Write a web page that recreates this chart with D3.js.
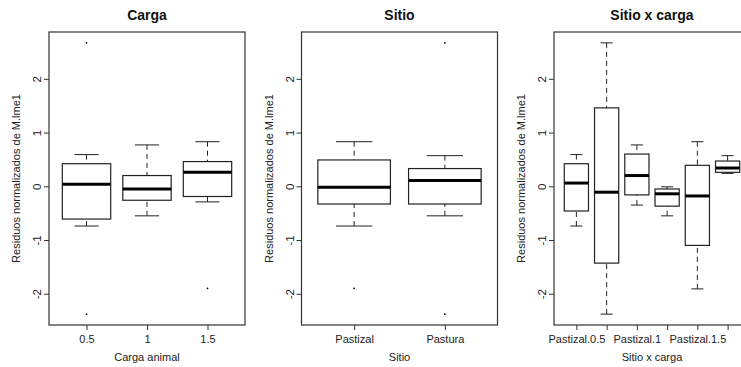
<!DOCTYPE html>
<html>
<head>
<meta charset="utf-8">
<script src="https://cdn.jsdelivr.net/npm/d3@7"></script>
<style>
  body { margin: 0; background: #fff; }
  svg { display: block; font-family: "Liberation Sans", Arial, sans-serif; }
</style>
</head>
<body>
<div id="chart"></div>
<script>
// box stats: [lower whisker, Q1, median, Q3, upper whisker]
const yTicks = [-2, -1, 0, 1, 2];

const cargaGroups = ["0.5", "1", "1.5"];
const cargaStats = [
  [-0.74, -0.61, 0.04, 0.42, 0.59],
  [-0.55, -0.26, -0.05, 0.20, 0.77],
  [-0.29, -0.19, 0.26, 0.46, 0.83]
];
const cargaOutliers = [[2.67, -2.38], [], [-1.90]];

const sitioGroups = ["Pastizal", "Pastura"];
const sitioStats = [
  [-0.74, -0.33, -0.02, 0.49, 0.83],
  [-0.55, -0.33, 0.11, 0.33, 0.57]
];
const sitioOutliers = [[-1.90], [2.67, -2.38]];

const sxcGroups = ["Pastizal.0.5", "Pastura.0.5", "Pastizal.1", "Pastura.1", "Pastizal.1.5", "Pastura.1.5"];
const sxcStats = [
  [-0.74, -0.46, 0.06, 0.42, 0.59],
  [-2.38, -1.43, -0.11, 1.46, 2.67],
  [-0.35, -0.16, 0.20, 0.60, 0.77],
  [-0.55, -0.37, -0.14, -0.05, -0.01],
  [-1.91, -1.10, -0.18, 0.39, 0.83],
  [0.24, 0.26, 0.34, 0.47, 0.57]
];
const sxcOutliers = [[], [], [], [], [], []];

const panels = [
  { title: "Carga", xlab: "Carga animal", groups: cargaGroups, stats: cargaStats, outliers: cargaOutliers },
  { title: "Sitio", xlab: "Sitio", groups: sitioGroups, stats: sitioStats, outliers: sitioOutliers },
  { title: "Sitio x carga", xlab: "Sitio x carga", groups: sxcGroups, stats: sxcStats, outliers: sxcOutliers }
];

const width = 741;
const height = 367;
const ylab = "Residuos normalizados de M.lme1";

const svg = d3.select("#chart").append("svg")
  .attr("width", width)
  .attr("height", height);

const plotTop = 32, plotBottom = 325, plotW = 196, figW = 252.5, firstLeft = 49;

panels.forEach((p, i) => {
  const left = firstLeft + i * figW;
  const n = p.groups.length;
  const g = svg.append("g");

  const all = p.stats.flat().concat(p.outliers.flat());
  const [lo, hi] = d3.extent(all);
  const pad = (hi - lo) * 0.04;
  const y = d3.scaleLinear().domain([lo - pad, hi + pad]).range([plotBottom, plotTop]);
  const x = d3.scaleLinear().domain([0.5 - 0.04 * n, n + 0.5 + 0.04 * n]).range([left, left + plotW]);
  const pos = (j) => x(j + 1);
  const bw = x(0.8) - x(0);

  // boxes
  p.stats.forEach((s, j) => {
    const cx = pos(j);
    const [wl, q1, med, q3, wh] = s;
    // whiskers
    [[wl, q1], [wh, q3]].forEach(([a, b]) => {
      g.append("line")
        .attr("x1", cx).attr("x2", cx)
        .attr("y1", y(a)).attr("y2", y(b))
        .attr("stroke", "#222").attr("stroke-width", 1)
        .attr("stroke-dasharray", "5,4");
      g.append("line")
        .attr("x1", cx - bw / 4).attr("x2", cx + bw / 4)
        .attr("y1", y(a)).attr("y2", y(a))
        .attr("stroke", "#222").attr("stroke-width", 1);
    });
    g.append("rect")
      .attr("x", cx - bw / 2).attr("y", y(q3))
      .attr("width", bw).attr("height", y(q1) - y(q3))
      .attr("fill", "none").attr("stroke", "#222").attr("stroke-width", 1.2);
    g.append("line")
      .attr("x1", cx - bw / 2).attr("x2", cx + bw / 2)
      .attr("y1", y(med)).attr("y2", y(med))
      .attr("stroke", "#000").attr("stroke-width", 3);
    p.outliers[j].forEach((v) => {
      g.append("circle")
        .attr("cx", cx).attr("cy", y(v)).attr("r", 0.9)
        .attr("fill", "#000");
    });
  });

  // frame
  g.append("rect")
    .attr("x", left).attr("y", plotTop)
    .attr("width", plotW).attr("height", plotBottom - plotTop)
    .attr("fill", "none").attr("stroke", "#333").attr("stroke-width", 1.2);

  // y axis
  const yAxis = g.append("g")
    .attr("transform", `translate(${left},0)`)
    .call(d3.axisLeft(y).tickValues(yTicks).tickSize(5).tickFormat((d) => String(d)));
  yAxis.select(".domain").remove();
  yAxis.selectAll("line").attr("stroke", "#333");
  yAxis.selectAll("text")
    .attr("x", 0).attr("dy", 0)
    .attr("transform", "translate(-8,0) rotate(-90)")
    .attr("text-anchor", "middle")
    .attr("fill", "#222")
    .style("font-size", "11.5px")
    .style("font-family", "'Liberation Sans', Arial, sans-serif");

  // x axis
  const xAxis = g.append("g")
    .attr("transform", `translate(0,${plotBottom})`)
    .call(d3.axisBottom(x).tickValues(d3.range(1, n + 1)).tickSize(5).tickPadding(5)
      .tickFormat((d) => p.groups[d - 1]));
  xAxis.select(".domain").remove();
  xAxis.selectAll("line").attr("stroke", "#333");
  xAxis.selectAll("text")
    .attr("fill", "#222")
    .style("font-size", "11px")
    .style("font-family", "'Liberation Sans', Arial, sans-serif");
  // drop labels that would overlap, as R does
  let lastRight = -Infinity;
  xAxis.selectAll("text").each(function () {
    const b = this.getBoundingClientRect();
    if (b.left < lastRight + 4) d3.select(this).remove();
    else lastRight = b.right;
  });

  // titles
  g.append("text")
    .attr("x", left + plotW / 2).attr("y", 20)
    .attr("text-anchor", "middle")
    .style("font-size", "14px").style("font-weight", "bold")
    .attr("fill", "#111")
    .text(p.title);
  g.append("text")
    .attr("x", left + plotW / 2).attr("y", 361)
    .attr("text-anchor", "middle")
    .style("font-size", "11px")
    .attr("fill", "#222")
    .text(p.xlab);
  g.append("text")
    .attr("transform", `translate(${left - 29},${(plotTop + plotBottom) / 2}) rotate(-90)`)
    .attr("text-anchor", "middle")
    .style("font-size", "11px")
    .attr("fill", "#222")
    .text(ylab);
});
</script>
</body>
</html>
